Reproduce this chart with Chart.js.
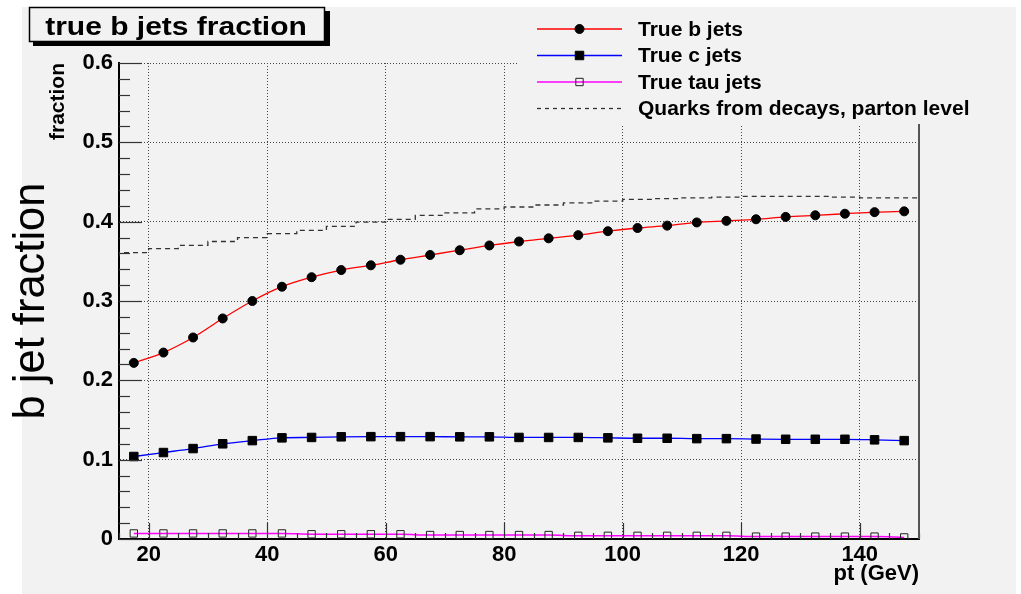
<!DOCTYPE html>
<html>
<head>
<meta charset="utf-8">
<title>true b jets fraction</title>
<script src="https://cdn.jsdelivr.net/npm/chart.js@4.4.1/dist/chart.umd.min.js"></script>
<style>
  html, body { margin: 0; padding: 0; background: #ffffff; }
  canvas { display: block; }
</style>
</head>
<body>
<canvas id="chart" width="1021" height="594"></canvas>
<script>
// jet pt bin centres (GeV)
const ptCenters = [17.5, 22.5, 27.5, 32.5, 37.5, 42.5, 47.5, 52.5, 57.5, 62.5, 67.5, 72.5, 77.5, 82.5,
  87.5, 92.5, 97.5, 102.5, 107.5, 112.5, 117.5, 122.5, 127.5, 132.5, 137.5, 142.5, 147.5]

// bin edges of the parton level histogram
const ptEdges = [15, 20, 25, 30, 35, 40, 45, 50, 55, 60, 65, 70, 75, 80, 85, 90, 95, 100,
  105, 110, 115, 120, 125, 130, 135, 140, 145, 150]

const bFraction = [0.222, 0.235, 0.254, 0.278, 0.300, 0.318, 0.330, 0.339, 0.345, 0.352, 0.358,
  0.364, 0.370, 0.375, 0.379, 0.383, 0.388, 0.392, 0.395, 0.399, 0.401, 0.403, 0.406, 0.408,
  0.410, 0.412, 0.413]

const cFraction = [0.104, 0.109, 0.114, 0.120, 0.124, 0.1275, 0.128, 0.1288, 0.129, 0.129, 0.129,
  0.1288, 0.1288, 0.128, 0.128, 0.128, 0.1275, 0.127, 0.127, 0.1265, 0.1265, 0.126, 0.1257,
  0.1257, 0.1257, 0.125, 0.124]

const tauFraction = [0.007, 0.007, 0.007, 0.007, 0.007, 0.007, 0.006, 0.006, 0.006, 0.006, 0.005,
  0.005, 0.005, 0.005, 0.005, 0.004, 0.004, 0.004, 0.004, 0.004, 0.004, 0.003, 0.003, 0.003,
  0.003, 0.003, 0.002]

const quarkFraction = [0.356, 0.361, 0.366, 0.370, 0.375, 0.380, 0.385, 0.389, 0.394, 0.3995,
  0.403, 0.408, 0.411, 0.416, 0.4185, 0.421, 0.4236, 0.426, 0.428, 0.429, 0.430, 0.431, 0.432,
  0.432, 0.432, 0.431, 0.430]

const xTicks = [20, 40, 60, 80, 100, 120, 140]
const yTicks = [0, 0.1, 0.2, 0.3, 0.4, 0.5, 0.6]

const seriesNames = ["True b jets", "True c jets", "True tau jets", "Quarks from decays, parton level"]

const FONT = '"Liberation Sans", Arial, Helvetica, sans-serif'
const PAD_BG = "#f2f2f2"

const points = (xs, ys) => xs.map((x, i) => ({ x, y: ys[i] }))

// histogram: value of each bin held until the next edge
const quarkSteps = ptEdges.map((x, i) => ({ x, y: quarkFraction[Math.min(i, quarkFraction.length - 1)] }))


function drawMarker(ctx, ds, x, y) {
  const r = ds.pointRadius
  ctx.save()
  ctx.fillStyle = ds.pointBackgroundColor
  ctx.strokeStyle = ds.pointBorderColor
  ctx.lineWidth = ds.pointBorderWidth
  ctx.setLineDash([])
  ctx.beginPath()
  if (ds.pointStyle === "circle") {
    ctx.arc(x, y, r, 0, Math.PI * 2)
  } else {
    const h = r * Math.SQRT1_2
    ctx.rect(x - h, y - h, 2 * h, 2 * h)
  }
  ctx.fill()
  ctx.stroke()
  ctx.restore()
}


// grey pad with a white margin round it
const padBackground = {
  id: "padBackground",
  beforeDraw(chart) {
    const ctx = chart.ctx
    ctx.save()
    ctx.fillStyle = "#ffffff"
    ctx.fillRect(0, 0, chart.width, chart.height)
    ctx.fillStyle = PAD_BG
    ctx.fillRect(22, 7, 994, chart.height - 7)
    ctx.restore()
  }
}


// inward tick marks and the right hand frame line
const frameTicks = {
  id: "frameTicks",
  afterDatasetsDraw(chart) {
    const ctx = chart.ctx
    const { left, right, top, bottom } = chart.chartArea
    const x = chart.scales.x
    const y = chart.scales.y

    ctx.save()
    ctx.strokeStyle = "#333"
    ctx.lineWidth = 1.2

    for (let v = 0; v <= 0.6001; v += 0.02) {
      const major = Math.abs(v * 10 - Math.round(v * 10)) < 1e-6
      const py = Math.round(y.getPixelForValue(v)) + 0.5
      ctx.beginPath()
      ctx.moveTo(left, py)
      ctx.lineTo(left + (major ? 23 : 11), py)
      ctx.stroke()
    }

    for (let v = 15; v <= 150; v += 5) {
      const major = v % 20 === 0
      const px = Math.round(x.getPixelForValue(v)) + 0.5
      ctx.beginPath()
      ctx.moveTo(px, bottom)
      ctx.lineTo(px, bottom - (major ? 16 : 6))
      ctx.stroke()
    }

    ctx.strokeStyle = "#555"
    ctx.lineWidth = 2
    ctx.beginPath()
    ctx.moveTo(right, top)
    ctx.lineTo(right, bottom)
    ctx.stroke()
    ctx.restore()
  }
}


// legend block in the top right corner and the boxed title
const legendAndTitle = {
  id: "legendAndTitle",
  afterDraw(chart) {
    const ctx = chart.ctx
    ctx.save()

    ctx.fillStyle = PAD_BG
    ctx.fillRect(518, 7, 1016 - 518, 124 - 7)

    chart.data.datasets.forEach((ds, i) => {
      const yRow = 29 + i * 26.5
      ctx.save()
      ctx.strokeStyle = ds.borderColor
      ctx.lineWidth = 1.3
      ctx.setLineDash(ds.borderDash ? [4, 4] : [])
      ctx.beginPath()
      ctx.moveTo(537, yRow)
      ctx.lineTo(622, yRow)
      ctx.stroke()
      ctx.restore()

      if (ds.pointRadius > 0) drawMarker(ctx, ds, 579.5, yRow)

      ctx.fillStyle = "#000"
      ctx.font = "bold 21px " + FONT
      ctx.textAlign = "left"
      ctx.textBaseline = "middle"
      ctx.fillText(ds.label, 638, yRow + 1)
    })

    // title box with drop shadow
    ctx.fillStyle = "#000"
    ctx.fillRect(33, 42, 297, 4)
    ctx.fillRect(325, 11, 5, 35)
    ctx.fillStyle = PAD_BG
    ctx.fillRect(29, 7, 296, 35)
    ctx.strokeStyle = "#000"
    ctx.lineWidth = 1.5
    ctx.strokeRect(29.5, 7.5, 295, 34)

    ctx.translate(176, 35)
    ctx.scale(1.2, 1)
    ctx.fillStyle = "#000"
    ctx.font = "bold 25px " + FONT
    ctx.textAlign = "center"
    ctx.textBaseline = "alphabetic"
    ctx.fillText("true b jets fraction", 0, 0)

    ctx.restore()
  }
}


new Chart(document.getElementById("chart"), {

  type: "line",

  data: {
    datasets: [
      {
        label: seriesNames[0],
        data: points(ptCenters, bFraction),
        borderColor: "#ff0000",
        borderWidth: 1.3,
        cubicInterpolationMode: "monotone",
        pointStyle: "circle",
        pointRadius: 4.5,
        pointBackgroundColor: "#000",
        pointBorderColor: "#000",
        pointBorderWidth: 1
      },
      {
        label: seriesNames[1],
        data: points(ptCenters, cFraction),
        borderColor: "#0000ff",
        borderWidth: 1.3,
        cubicInterpolationMode: "monotone",
        pointStyle: "rect",
        pointRadius: 6,
        pointBackgroundColor: "#000",
        pointBorderColor: "#000",
        pointBorderWidth: 1
      },
      {
        label: seriesNames[2],
        data: points(ptCenters, tauFraction),
        borderColor: "#ff00ff",
        borderWidth: 1.5,
        cubicInterpolationMode: "monotone",
        pointStyle: "rect",
        pointRadius: 5.2,
        pointBackgroundColor: "rgba(0,0,0,0)",
        pointBorderColor: "#222",
        pointBorderWidth: 1
      },
      {
        label: seriesNames[3],
        data: quarkSteps,
        borderColor: "#333",
        borderWidth: 1.3,
        borderDash: [5, 4],
        stepped: "after",
        pointRadius: 0
      }
    ]
  },

  options: {
    responsive: false,
    animation: false,
    events: [],

    layout: {
      padding: { left: 0, top: 63, right: 102, bottom: 0 }
    },

    plugins: {
      legend: { display: false },
      tooltip: { enabled: false }
    },

    scales: {
      x: {
        type: "linear",
        min: 15,
        max: 150,
        afterBuildTicks: s => { s.ticks = xTicks.map(v => ({ value: v })) },
        afterFit: s => { s.height = 55 },
        ticks: {
          color: "#000",
          padding: 3,
          maxRotation: 0,
          font: { family: FONT, size: 22, weight: "bold" }
        },
        grid: { color: "#444", lineWidth: 1, drawTicks: false },
        border: { display: true, color: "#000", width: 2, dash: [1, 2] },
        title: {
          display: true,
          text: "pt (GeV)",
          align: "end",
          color: "#000",
          padding: { top: 0, bottom: 7 },
          font: { family: FONT, size: 22, weight: "bold" }
        }
      },

      y: {
        type: "linear",
        position: "left",
        weight: 0,
        min: 0,
        max: 0.6,
        afterBuildTicks: s => { s.ticks = yTicks.map(v => ({ value: v })) },
        afterFit: s => { s.width = 75 },
        ticks: {
          color: "#000",
          padding: 6,
          callback: v => (v === 0 ? "0" : v.toFixed(1)),
          font: { family: FONT, size: 22, weight: "bold" }
        },
        grid: { color: "#444", lineWidth: 1, drawTicks: false },
        border: { display: true, color: "#000", width: 2, dash: [1, 2] },
        title: {
          display: true,
          text: "fraction",
          align: "end",
          color: "#000",
          padding: { top: 2, bottom: 0 },
          font: { family: FONT, size: 21, weight: "bold" }
        }
      },

      yTitle: {
        type: "linear",
        position: "left",
        weight: 1,
        afterFit: s => { s.width = 44 },
        ticks: { display: false },
        grid: { display: false, drawTicks: false },
        border: { display: false },
        title: {
          display: true,
          text: "b jet fraction",
          color: "#000",
          padding: { top: 6, bottom: 0 },
          font: { family: FONT, size: 43.5, weight: "normal" }
        }
      }
    }
  },

  plugins: [padBackground, frameTicks, legendAndTitle]
})
</script>
</body>
</html>
